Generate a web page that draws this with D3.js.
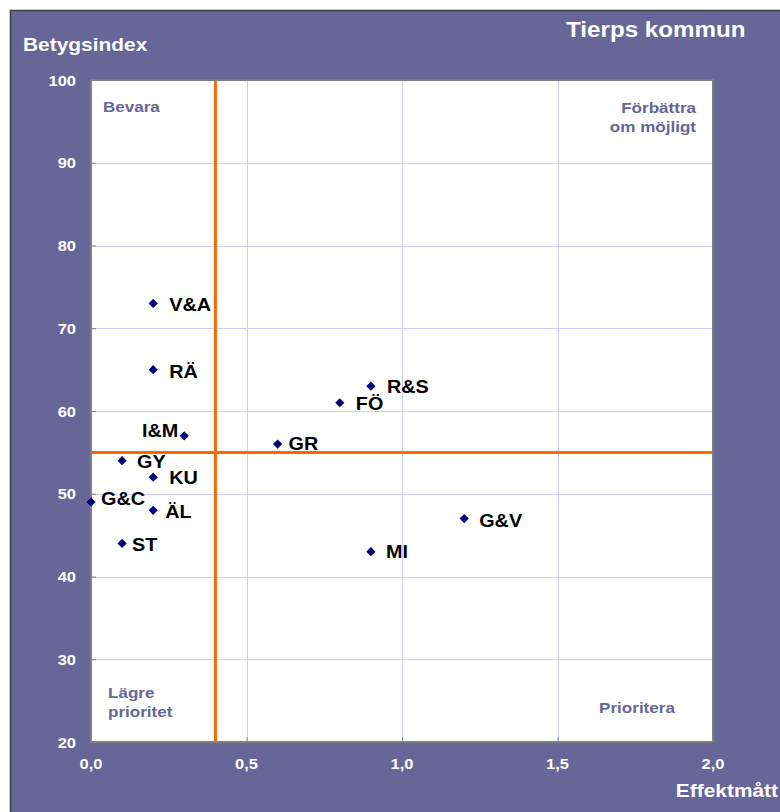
<!DOCTYPE html>
<html>
<head>
<meta charset="utf-8">
<script src="https://cdn.jsdelivr.net/npm/d3@7"></script>
<style>
  body { margin: 0; background: #fff; }
  text { font-family: "Liberation Sans", Arial, sans-serif; font-weight: bold; }
</style>
</head>
<body>
<svg id="chart" width="780" height="812"></svg>
<script>
// service abbreviations and their values
var labels = ["V&A", "RÄ", "I&M", "GY", "KU", "G&C", "ÄL", "ST", "GR", "FÖ", "R&S", "G&V", "MI"];
var effekt = [0.2, 0.2, 0.3, 0.1, 0.2, 0.0, 0.2, 0.1, 0.6, 0.8, 0.9, 1.2, 0.9];
var betyg  = [73, 65, 57, 54, 52, 49, 48, 44, 56, 61, 63, 47, 43];

var xTicks = [0, 0.5, 1.0, 1.5, 2.0];
var yTicks = [20, 30, 40, 50, 60, 70, 80, 90, 100];
var xSplit = 0.4, ySplit = 55;

// label offsets (dx, baseline dy, anchor) - placement only
var labelPos = {
  "V&A": [16, 8], "RÄ": [16, 8], "I&M": [-6, 1, "end"], "GY": [15, 7],
  "KU": [16, 7], "G&C": [10, 3], "ÄL": [12, 7.5], "ST": [10, 8],
  "GR": [11, 6], "FÖ": [16, 7], "R&S": [16, 7], "G&V": [15, 8], "MI": [15, 6.5]
};

var bg = "#666699";
var sx = 1.1; // text in the original is slightly wide

var svg = d3.select("#chart");

var pLeft = 91, pRight = 713, pTop = 80, pBottom = 742;

var x = d3.scaleLinear().domain([0, 2]).range([pLeft, pRight]);
var y = d3.scaleLinear().domain([20, 100]).range([pBottom, pTop]);

function txt(g, px, py, s, size, fill, anchor) {
  return g.append("text")
    .attr("transform", "translate(" + px + "," + py + ") scale(" + sx + ",1)")
    .attr("font-size", size)
    .attr("fill", fill)
    .attr("text-anchor", anchor || "start")
    .text(s);
}

// outer frame
svg.append("rect")
  .attr("x", 10.5).attr("y", 10.5)
  .attr("width", 800).attr("height", 820)
  .attr("fill", bg).attr("stroke", "#3c3c3c").attr("stroke-width", 1.5);

// plot area
svg.append("rect")
  .attr("x", pLeft).attr("y", pTop)
  .attr("width", pRight - pLeft).attr("height", pBottom - pTop)
  .attr("fill", "#fff");

// gridlines
var grid = svg.append("g").attr("stroke", "#ccccff").attr("stroke-width", 1);
grid.selectAll(".gx").data(xTicks.slice(1, -1)).enter().append("line")
  .attr("x1", function(d) { return Math.round(x(d)) + 0.5; })
  .attr("x2", function(d) { return Math.round(x(d)) + 0.5; })
  .attr("y1", pTop).attr("y2", pBottom);
grid.selectAll(".gy").data(yTicks.slice(1, -1)).enter().append("line")
  .attr("y1", function(d) { return Math.round(y(d)) + 0.5; })
  .attr("y2", function(d) { return Math.round(y(d)) + 0.5; })
  .attr("x1", pLeft).attr("x2", pRight);

// axes with inside ticks
var xAxis = svg.append("g")
  .attr("transform", "translate(0," + pBottom + ")")
  .call(d3.axisTop(x).tickValues(xTicks).tickSize(5).tickFormat(""));
var yAxis = svg.append("g")
  .attr("transform", "translate(" + pLeft + ",0)")
  .call(d3.axisRight(y).tickValues(yTicks).tickSize(5).tickFormat(""));
[xAxis, yAxis].forEach(function(a) {
  a.select(".domain").remove();
  a.selectAll("line").attr("stroke", "#808080");
});

// quadrant split lines
svg.append("line")
  .attr("x1", x(xSplit)).attr("x2", x(xSplit))
  .attr("y1", pTop).attr("y2", pBottom)
  .attr("stroke", "#ff6600").attr("stroke-width", 3);
svg.append("line")
  .attr("x1", pLeft).attr("x2", pRight)
  .attr("y1", y(ySplit)).attr("y2", y(ySplit))
  .attr("stroke", "#ff6600").attr("stroke-width", 3);

// plot border
svg.append("rect")
  .attr("x", pLeft).attr("y", pTop)
  .attr("width", pRight - pLeft).attr("height", pBottom - pTop)
  .attr("fill", "none").attr("stroke", "#808080").attr("stroke-width", 2);

// tick labels
xTicks.forEach(function(t) {
  txt(svg, x(t), 769, d3.format(".1f")(t).replace(".", ","), 15, "#fff", "middle");
});
yTicks.forEach(function(t) {
  txt(svg, 76, y(t) + 5.5, t, 15, "#fff", "end");
});

// quadrant captions
txt(svg, 103, 112, "Bevara", 15.5, bg);
txt(svg, 696, 113, "Förbättra", 15.5, bg, "end");
txt(svg, 696, 132, "om möjligt", 15.5, bg, "end");
txt(svg, 108, 698, "Lägre", 15.5, bg);
txt(svg, 108, 717, "prioritet", 15.5, bg);
txt(svg, 637, 713, "Prioritera", 15.5, bg, "middle");

// titles
txt(svg, 23, 51, "Betygsindex", 19, "#fff");
txt(svg, 566, 37, "Tierps kommun", 22, "#fff");
txt(svg, 778, 797, "Effektmått", 19, "#fff", "end");

// points (square diamonds like the Excel marker)
var pts = svg.append("g");
labels.forEach(function(l, i) {
  var px = x(effekt[i]), py = y(betyg[i]);
  pts.append("path")
    .attr("d", d3.symbol().type(d3.symbolSquare).size(42)())
    .attr("transform", "translate(" + px + "," + py + ") rotate(45)")
    .attr("fill", "#000080");
  var p = labelPos[l];
  txt(pts, px + p[0], py + p[1], l, 18, "#000", p[2] || "start");
});
</script>
</body>
</html>
